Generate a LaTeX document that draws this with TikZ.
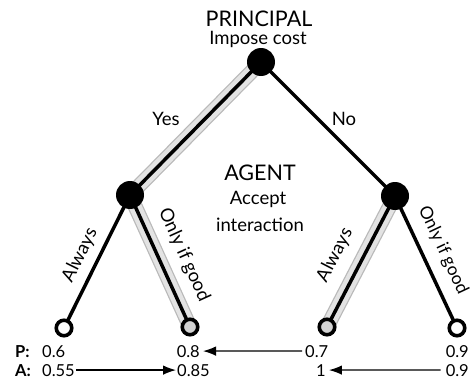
\documentclass[tikz,border=0pt]{standalone}
\usepackage{fontspec}
\setmainfont{Lato}
\usetikzlibrary{arrows.meta,backgrounds}
\begin{document}
\begin{tikzpicture}[x=1pt,y=-1pt,
  dec/.style={circle,fill=black,inner sep=0pt,minimum size=28pt},
  leafn/.style={circle,draw=black,line width=3.6pt,fill=white,inner sep=0pt,minimum size=15.5pt},
  leafhl/.style={leafn,fill=gray!35},
  edge/.style={line width=3.5pt,black},
  bandout/.style={line width=15pt,gray!55,line cap=round},
  bandin/.style={line width=12.5pt,gray!22,line cap=round},
  lbl/.style={font=\fontsize{18.5}{22}\selectfont,inner sep=0pt},
  head/.style={font=\fontsize{21.5}{25}\selectfont,inner sep=0pt},
  val/.style={font=\fontsize{16.5}{19}\selectfont,inner sep=0pt},
  arr/.style={-{Latex[length=13pt,width=9.5pt]},line width=1.2pt}
]
\useasboundingbox (0,0) rectangle (472,380);
% decision nodes
\node[dec] (root) at (261,62) {};
\node[dec] (ag1) at (130,195) {};
\node[dec] (ag2) at (395,196) {};
% leaves
\node[leafn] (l1) at (64,328) {};
\node[leafhl] (l2) at (190,327) {};
\node[leafhl] (l3) at (327,327) {};
\node[leafn] (l4) at (457,328) {};
\begin{scope}[on background layer]
  \draw[bandout] (root.center) -- (ag1.center) -- (l2.center);
  \draw[bandout] (ag2.center) -- (l3.center);
  \draw[bandin] (root.center) -- (ag1.center) -- (l2.center);
  \draw[bandin] (ag2.center) -- (l3.center);
  \draw[edge] (root.center) -- (ag1.center);
  \draw[edge] (root.center) -- (ag2.center);
  \draw[edge] (ag1.center) -- (l1.center);
  \draw[edge] (ag1.center) -- (l2.center);
  \draw[edge] (ag2.center) -- (l3.center);
  \draw[edge] (ag2.center) -- (l4.center);
\end{scope}
% texts
\node[head,anchor=base] (principal) at (259,27) {PRINCIPAL};
\node[lbl,anchor=base] (impose) at (258,45) {Impose cost};
\node[lbl,anchor=base] (yes) at (166,125) {Yes};
\node[lbl,anchor=base] (no) at (344,125) {No};
\node[head,anchor=base] (agent) at (260,180) {AGENT};
\node[lbl,anchor=base] (accept) at (258,204) {Accept};
\node[lbl,anchor=base] (inter) at (260,231) {interaction};
\node[lbl,rotate=63.6] (alw1) at (80,255) {Always};
\node[lbl,rotate=-65.6] (oig1) at (184,255) {Only if good};
\node[lbl,rotate=62.7] (alw2) at (335,255) {Always};
\node[lbl,rotate=-64.8,font=\fontsize{17.5}{21}\selectfont] (oig2) at (443,250) {Only if good};
% payoffs
\node[val,anchor=base west,font=\fontsize{16.5}{19}\selectfont\bfseries] (pl) at (15,357) {P:};
\node[val,anchor=base west,font=\fontsize{16.5}{19}\selectfont\bfseries] (al) at (15,376) {A:};
\node[val,anchor=base west] (p1) at (42,357) {0.6};
\node[val,anchor=base west] (a1) at (42,376) {0.55};
\node[val,anchor=base east] (p2) at (200,357) {0.8};
\node[val,anchor=base west] (a2) at (177,376) {0.85};
\node[val,anchor=base west] (p3) at (305,357) {0.7};
\node[val,anchor=base] (a3) at (321,376) {1};
\node[val,anchor=base east] (p4) at (469,357) {0.9};
\node[val,anchor=base east] (a4) at (469,376) {0.9};
\draw[arr,shorten <=3pt,shorten >=3pt] (p3.west) -- (p2.east);
\draw[arr,shorten <=1pt,shorten >=1pt] (a1.east) -- (a2.west);
\draw[arr,shorten <=5pt,shorten >=3pt] (a4.west) -- (a3.east);
\end{tikzpicture}
\end{document}
